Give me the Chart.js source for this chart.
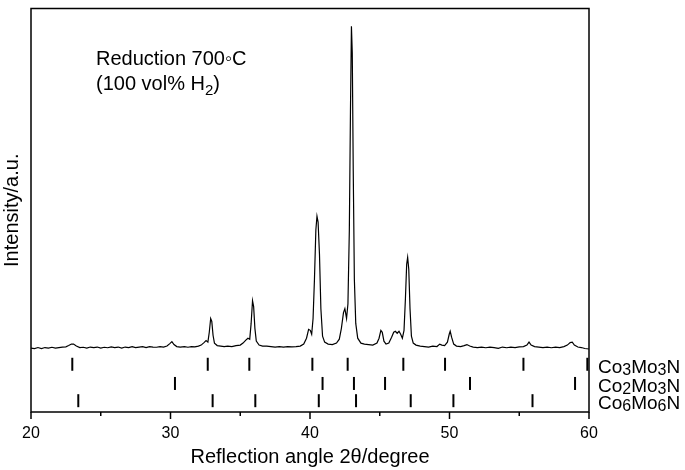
<!DOCTYPE html>
<html>
<head>
<meta charset="utf-8">
<script src="https://cdn.jsdelivr.net/npm/chart.js@4.4.1/dist/chart.umd.min.js"></script>
<style>
  html, body { margin: 0; padding: 0; background: #fff; }
  #wrap { width: 685px; height: 470px; position: relative; }
</style>
</head>
<body>
<div id="wrap"><canvas id="c" width="685" height="470"></canvas></div>
<script>
// ---- data ----
const xrdAngle = [20.0,20.25,20.5,20.75,21.0,21.25,21.5,21.75,22.0,22.25,22.5,22.7,22.9,23.05,23.25,23.5,23.75,24.0,24.25,24.5,24.75,25.0,25.25,25.5,25.75,26.0,26.25,26.5,26.75,27.0,27.25,27.5,27.75,28.0,28.25,28.5,28.75,29.0,29.25,29.5,29.75,29.95,30.1,30.25,30.45,30.7,31.0,31.25,31.5,31.75,32.0,32.2,32.4,32.55,32.68,32.78,32.88,32.96,33.05,33.15,33.35,33.6,33.85,34.1,34.4,34.7,35.0,35.2,35.4,35.55,35.68,35.78,35.88,35.96,36.05,36.15,36.35,36.6,36.9,37.2,37.5,37.8,38.1,38.4,38.7,39.0,39.3,39.55,39.75,39.9,40.02,40.12,40.22,40.32,40.42,40.5,40.58,40.68,40.78,40.9,41.05,41.3,41.6,41.9,42.1,42.25,42.4,42.5,42.62,42.72,42.82,42.9,42.97,43.03,43.1,43.18,43.28,43.42,43.65,43.9,44.2,44.5,44.8,44.95,45.08,45.18,45.3,45.45,45.65,45.85,46.0,46.12,46.25,46.38,46.5,46.62,46.74,46.84,46.93,47.0,47.08,47.17,47.27,47.4,47.6,47.9,48.2,48.5,48.8,49.1,49.3,49.45,49.65,49.85,49.98,50.05,50.15,50.3,50.5,50.8,51.05,51.25,51.45,51.7,52.0,52.3,52.6,52.9,53.2,53.5,53.8,54.1,54.4,54.7,55.0,55.3,55.55,55.7,55.85,56.1,56.4,56.7,57.0,57.3,57.6,57.9,58.2,58.45,58.65,58.8,58.95,59.2,59.45,59.7,60.0];
const xrdIntensity = [0,-0.5,0.5,-0.5,0.5,0,0.8,0,0.5,1,1.2,2.5,4,4,2,0.5,0.8,0,1,0.5,1,0,0.8,0.3,1.2,0.5,1,0,1,0.5,1.5,0.5,1,1.5,0.5,1.5,1,0.8,1.5,1,2,4.5,6.5,3.5,1.5,1,1.5,0.8,1.5,1.2,2,3,5.5,7.5,6,16,30,27,13,5,2.5,2,1.5,2,1.5,2.5,3,5,8,10,9,25,48,42,20,7,3,2,2,1.5,1,1.5,1,1.5,1.2,1.5,2,4,10,19,18,14,30,70,120,134,128,95,40,12,6,4,3.5,5,9,20,36,40,30,45,120,240,327,300,180,70,25,10,5,4,3.5,3,5,10,18,16,7,4,5,11,16,17,15,17,14,10,18,50,85,92,80,40,12,5,3,2,1.5,1,2,1.5,4,3,2.5,6,14,17,11,4,2,1.5,2.5,3.5,2,1,0.5,1,0.3,1,0.5,-0.3,1,0.3,1,0.5,1.2,1.5,3,6,3,1.5,1,0.5,1,0.3,1,0.5,1.5,3,5.5,6,3,1,0.5,-0.5,-1];

const phaseNames = ["Co3Mo3N", "Co2Mo3N", "Co6Mo6N"];
const co3Mo3NPeaks = [22.96, 32.67, 35.65, 40.17, 42.7, 46.69, 49.68, 55.3, 59.88];
const co2Mo3NPeaks = [30.32, 40.9, 43.15, 45.38, 51.47, 59.0];
const co6Mo6NPeaks = [23.39, 33.02, 36.08, 40.63, 43.3, 47.22, 50.28, 55.95];
const xTickValues = [20, 30, 40, 50, 60];

// ---- chart construction ----
const rowLevels = [-16.5, -36, -53.5];
const phasePeaks = [co3Mo3NPeaks, co2Mo3NPeaks, co6Mo6NPeaks];
const FONT = "'Liberation Sans', Arial, Helvetica, sans-serif";

const patternData = xrdAngle.map((a, i) => ({ x: a, y: xrdIntensity[i] }));

const datasets = [{
  type: 'line',
  data: patternData,
  borderColor: '#000',
  borderWidth: 1.2,
  pointRadius: 0,
  tension: 0,
  fill: false,
  order: 0
}];
phasePeaks.forEach((peaks, r) => {
  datasets.push({
    type: 'scatter',
    data: peaks.map(p => ({ x: p, y: rowLevels[r] })),
    pointStyle: 'line',
    rotation: 90,
    radius: 6.5,
    borderColor: '#000',
    backgroundColor: '#000',
    borderWidth: 2,
    clip: false
  });
});

function drawFormula(ctx, text, x, y, size, subSize, subShift) {
  // draws a chemical formula with digits as subscripts
  let cx = x;
  for (const ch of text) {
    const isDigit = /[0-9]/.test(ch);
    ctx.font = (isDigit ? subSize : size) + 'px ' + FONT;
    ctx.fillText(ch, cx, isDigit ? y + subShift : y);
    cx += ctx.measureText(ch).width;
  }
}

const decorPlugin = {
  id: 'decor',
  afterDraw(chart) {
    const ctx = chart.ctx;
    const ca = chart.chartArea;
    const xs = chart.scales.x;
    const ys = chart.scales.y;
    ctx.save();
    // frame
    ctx.strokeStyle = '#000';
    ctx.lineWidth = 1.5;
    ctx.strokeRect(ca.left, ca.top, ca.right - ca.left, ca.bottom - ca.top);
    // x tick marks (major every 10, minor every 5)
    xs.ticks.forEach(t => {
      const px = xs.getPixelForValue(t.value);
      const len = (t.value % 10 === 0) ? 7 : 4;
      ctx.beginPath();
      ctx.moveTo(px, ca.bottom);
      ctx.lineTo(px, ca.bottom + len);
      ctx.stroke();
    });
    // phase labels
    ctx.fillStyle = '#000';
    ctx.textBaseline = 'alphabetic';
    ctx.textAlign = 'left';
    phaseNames.forEach((name, r) => {
      const py = ys.getPixelForValue(rowLevels[r]);
      drawFormula(ctx, name, ca.right + 9, py + 8.5, 19, 16, 2);
    });
    // annotation
    ctx.font = '20px ' + FONT;
    const ax = ca.left + 65;
    ctx.fillText('Reduction 700\u25E6C', ax, ca.top + 56);
    const t1 = '(100 vol% H';
    ctx.fillText(t1, ax, ca.top + 81);
    let w = ctx.measureText(t1).width;
    ctx.font = '15px ' + FONT;
    ctx.fillText('2', ax + w, ca.top + 86);
    w += ctx.measureText('2').width;
    ctx.font = '20px ' + FONT;
    ctx.fillText(')', ax + w, ca.top + 81);
    ctx.restore();
  }
};

new Chart(document.getElementById('c'), {
  type: 'line',
  data: { datasets },
  options: {
    responsive: false,
    animation: false,
    events: [],
    layout: { padding: { left: 0, right: 96, top: 2, bottom: 0 } },
    plugins: { legend: { display: false }, tooltip: { enabled: false } },
    scales: {
      x: {
        type: 'linear',
        min: 20, max: 60,
        grid: { display: false, drawTicks: false },
        border: { display: false },
        ticks: {
          stepSize: 5,
          padding: 12.4,
          color: '#000',
          font: { family: FONT, size: 16 },
          maxRotation: 0,
          autoSkip: false,
          callback: (v) => xTickValues.includes(v) ? String(v) : ''
        },
        title: {
          display: true,
          text: 'Reflection angle 2\u03B8/degree',
          color: '#000',
          font: { family: FONT, size: 20 },
          padding: { top: -11, bottom: 1 }
        }
      },
      y: {
        type: 'linear',
        min: -65, max: 345,
        grid: { display: false, drawTicks: false },
        border: { display: false },
        ticks: { display: false },
        title: {
          display: true,
          text: 'Intensity/a.u.',
          color: '#000',
          font: { family: FONT, size: 20 },
          padding: { top: 0, bottom: 7 }
        }
      }
    }
  },
  plugins: [decorPlugin]
});
</script>
</body>
</html>
